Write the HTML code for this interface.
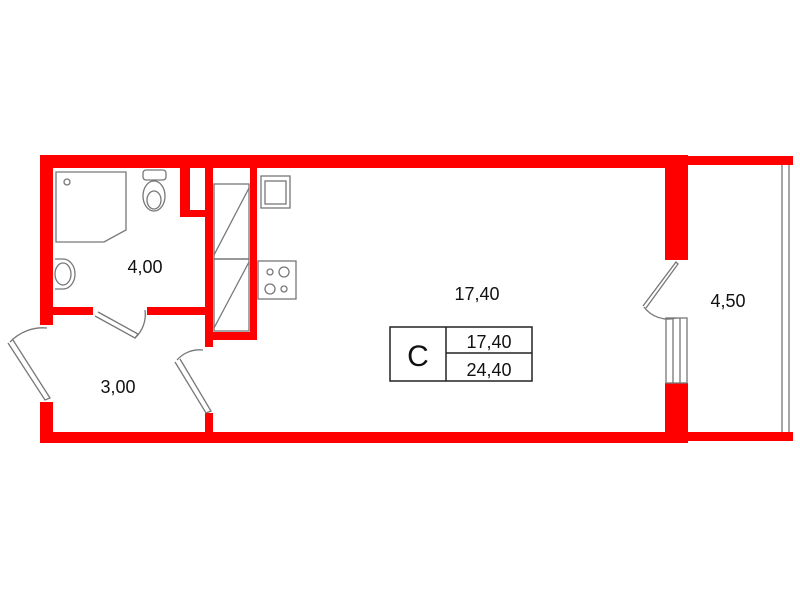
<!DOCTYPE html>
<html><head><style>body{margin:0;background:#fff}svg{display:block}text{font-family:"Liberation Sans",Arial,sans-serif}</style></head>
<body>
<svg width="800" height="600" viewBox="0 0 800 600" xmlns="http://www.w3.org/2000/svg">
<g fill="#f00">
<rect x="40" y="155" width="648" height="13"/>
<rect x="40" y="155" width="13" height="170"/>
<rect x="40" y="402" width="13" height="41"/>
<rect x="40" y="432" width="648" height="11"/>
<rect x="53" y="307" width="40" height="8"/>
<rect x="147" y="307" width="58" height="8"/>
<rect x="205" y="168" width="8" height="179"/>
<rect x="205" y="413" width="8" height="20"/>
<rect x="180" y="168" width="10" height="49"/>
<rect x="180" y="210" width="25" height="7"/>
<rect x="250" y="168" width="7" height="172"/>
<rect x="205" y="332" width="52" height="8"/>
<rect x="665" y="155" width="23" height="105"/>
<rect x="665" y="383" width="23" height="60"/>
<rect x="688" y="156" width="105" height="9"/>
<rect x="688" y="432" width="105" height="9"/>
</g>
<g fill="none" stroke="#777" stroke-width="1.3">
<rect x="214" y="184" width="35" height="75"/>
<rect x="214" y="259" width="35" height="72"/>
<line x1="214" y1="255" x2="249" y2="188"/>
<line x1="214" y1="328" x2="249" y2="262"/>
<path d="M56 172 H126 V230 L104 242 H56 Z"/>
<circle cx="67" cy="182" r="3"/>
<rect x="143" y="170" width="23" height="10" rx="3"/>
<ellipse cx="154" cy="196" rx="11" ry="15"/>
<ellipse cx="154" cy="200" rx="7" ry="9"/>
<path d="M55 259 h8 a12 15 0 0 1 0 30 h-8"/>
<ellipse cx="63" cy="274" rx="8" ry="11"/>
<rect x="261" y="176" width="29" height="32"/>
<rect x="265" y="181" width="21" height="23"/>
<rect x="258" y="261" width="38" height="38"/>
<circle cx="270" cy="272" r="3"/><circle cx="284" cy="272" r="5"/>
<circle cx="270" cy="289" r="5"/><circle cx="284" cy="289" r="3"/>
<path d="M95 316 L135 338 L138 334 L98 312"/>
<path d="M135 338 A32 32 0 0 0 145 310"/>
<path d="M8 343 L45 400 L50 398 L13 340"/>
<path d="M10 342 A45 45 0 0 1 47 328"/>
<path d="M175 362 L206 413 L211 411 L180 359"/>
<path d="M177 360 A30 30 0 0 1 203 350"/>
<path d="M643 306 L676 262 L678 264 L646 308"/>
<path d="M644 307 A30 30 0 0 0 676 318"/>
<rect x="666" y="318" width="21" height="65"/>
<line x1="673" y1="318" x2="673" y2="383"/><line x1="680" y1="318" x2="680" y2="383"/>
<line x1="782" y1="165" x2="782" y2="432"/><line x1="789" y1="165" x2="789" y2="432"/>
</g>
<g fill="none" stroke="#222" stroke-width="1.5">
<rect x="390" y="327" width="142" height="54"/>
<line x1="446" y1="327" x2="446" y2="381"/>
<line x1="446" y1="353" x2="532" y2="353"/>
</g>
<g fill="#111" font-size="18">
<text x="477" y="300" text-anchor="middle">17,40</text>
<text x="145" y="273" text-anchor="middle">4,00</text>
<text x="118" y="393" text-anchor="middle">3,00</text>
<text x="728" y="307" text-anchor="middle">4,50</text>
<text x="489" y="348" text-anchor="middle">17,40</text>
<text x="489" y="376" text-anchor="middle">24,40</text>
<text x="418" y="366" text-anchor="middle" font-size="30">C</text>
</g>
</svg>
</body></html>
